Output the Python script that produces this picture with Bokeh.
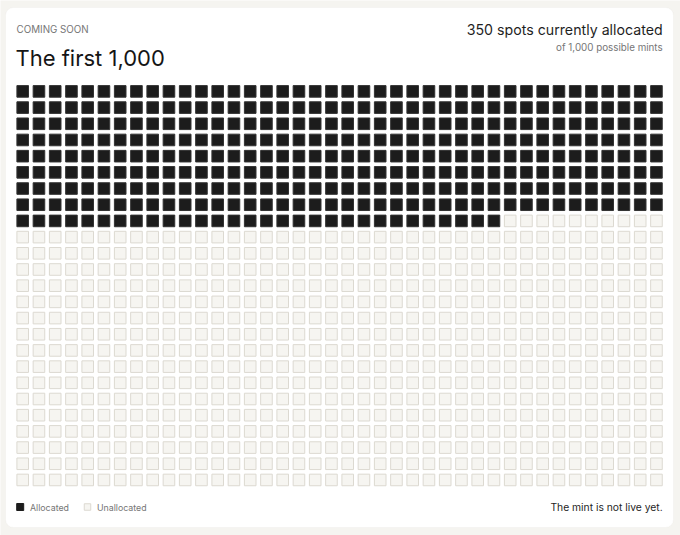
from bokeh.core.properties import value
from bokeh.embed import file_html
from bokeh.models import BoxAnnotation, ColumnDataSource, Range1d
from bokeh.plotting import figure
from bokeh.resources import INLINE

# chart values
total_spots = 1000
allocated_spots = 350
grid_columns = 40
eyebrow = "COMING SOON"
title = "The first 1,000"
headline = "350 spots currently allocated"
subline = "of 1,000 possible mints"
legend_labels = ["Allocated", "Unallocated"]
footer = "The mint is not live yet."

W, H = 680, 535
FONT = "Inter"
DARK = "#1c1c1c"
GRAY = "#767676"
EMPTY_FILL = "#f6f5f1"
EMPTY_LINE = "#dcd9d1"

p = figure(width=W, height=H, output_backend="svg", toolbar_location=None,
           x_range=Range1d(0, W), y_range=Range1d(H, 0), min_border=0)
p.axis.visible = False
p.grid.visible = False
p.outline_line_color = None
p.background_fill_color = "#f5f4f0"
p.border_fill_color = "#f5f4f0"

# white card
p.add_layout(BoxAnnotation(left=5, right=673, top=7, bottom=527,
                           fill_color="white", fill_alpha=1,
                           line_color="#ebe9e3", line_width=1,
                           border_radius=8, level="underlay"))

# waffle grid
left, top = 16, 84.7
pitch_x, pitch_y, cell = 16.25, 16.19, 11.6
idx = list(range(total_spots))
cols = [i % grid_columns for i in idx]
rows = [i // grid_columns for i in idx]
status = ["a" if i < allocated_spots else "u" for i in idx]
src = ColumnDataSource(dict(
    x=[left + 6.2 + c * pitch_x for c in cols],
    y=[top + 6.2 + r * pitch_y for r in rows],
    fill=[DARK if s == "a" else EMPTY_FILL for s in status],
    line=["#333333" if s == "a" else EMPTY_LINE for s in status],
))
p.rect("x", "y", width=cell, height=cell, source=src,
       fill_color="fill", line_color="line", line_width=1)

right = left + (grid_columns - 1) * pitch_x + 12.4


def label(x, y, txt, size, color, align="left"):
    p.text(x=[x], y=[y], text=[txt], text_font=value(FONT),
           text_font_size=size, text_color=color, text_align=align,
           text_baseline="middle")


label(left, 28.5, eyebrow, "9.8px", GRAY)
label(left - 1, 57, title, "22px", "#151515")
label(right, 29, headline, "14.2px", "#1f1f1f", "right")
label(right, 47, subline, "9.8px", GRAY, "right")

# legend
leg_y = 506.5
p.rect(x=[left + 3.7], y=[leg_y], width=7, height=7,
       fill_color=DARK, line_color=DARK)
label(left + 13.5, leg_y, legend_labels[0], "8.8px", GRAY)
p.rect(x=[left + 71], y=[leg_y], width=6.5, height=6.5,
       fill_color=EMPTY_FILL, line_color=EMPTY_LINE)
label(left + 80.5, leg_y, legend_labels[1], "8.8px", GRAY)
label(right, leg_y, footer, "10.3px", "#1f1f1f", "right")

open("out.html", "w").write(file_html(p, INLINE))
